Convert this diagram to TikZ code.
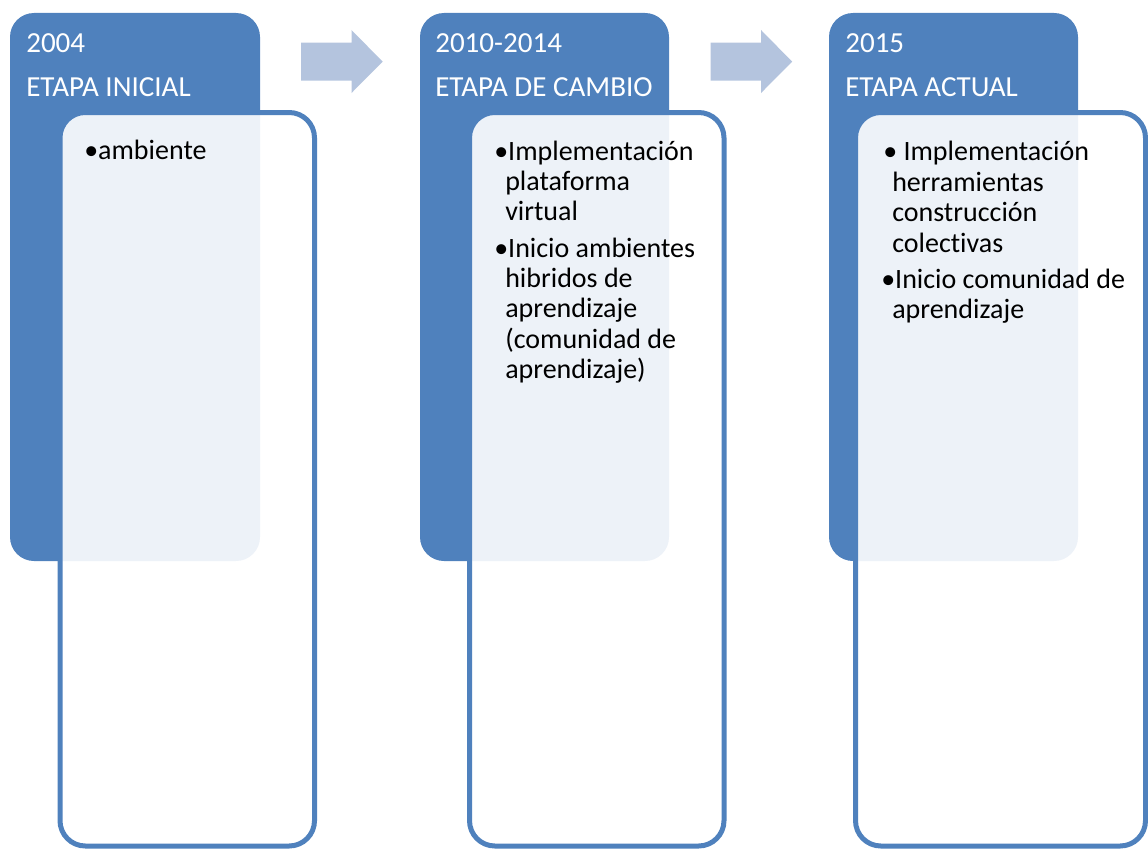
\documentclass[tikz,border=0pt]{standalone}
\usepackage{fontspec}
\setmainfont{Carlito}[RawFeature={-liga;-clig}]
\definecolor{accblue}{HTML}{4F81BD}
\definecolor{arrowblue}{HTML}{B4C4DE}
\begin{document}
\begin{tikzpicture}[x=0.75pt,y=-0.75pt,
  stagebox/.style={fill=accblue, draw=none, rounded corners=18pt},
  detailbox/.style={draw=accblue, line width=3.75pt, fill=white, fill opacity=0.9, rounded corners=19pt},
  headtxt/.style={anchor=base west, inner sep=0pt, text=white, font=\fontsize{21.8}{26}\selectfont},
  bodytxt/.style={anchor=base west, inner sep=0pt, text=black, font=\fontsize{21}{23}\selectfont},
  flow/.style={fill=arrowblue, draw=none}]
\useasboundingbox (0,0) rectangle (1148,849);
% column 1
\fill[stagebox] (10,13) rectangle (260,561);
\path[detailbox] (60,112.5) rectangle (314.5,846);
% column 2
\fill[stagebox] (420,13) rectangle (669,561);
\path[detailbox] (469.5,112.5) rectangle (724,846);
% column 3
\fill[stagebox] (829,13) rectangle (1078,561);
\path[detailbox] (855.5,112.5) rectangle (1145.5,846);
% arrows
\fill[flow] (301,42.7) -- (351.5,42.7) -- (351.5,30) -- (382.7,61.7) -- (351.5,93) -- (351.5,80.7) -- (301,80.7) -- cycle;
\fill[flow] (710.5,42.7) -- (761,42.7) -- (761,30) -- (792.2,61.7) -- (761,93) -- (761,80.7) -- (710.5,80.7) -- cycle;
% headers
\node[headtxt] (h1a) at (26,53) {2004};
\node[headtxt] (h1b) at (26,96) {ETAPA INICIAL};
\node[headtxt] (h2a) at (435,53) {2010-2014};
\node[headtxt] (h2b) at (435,96) {ETAPA DE CAMBIO};
\node[headtxt] (h3a) at (845,53) {2015};
\node[headtxt] (h3b) at (845,96) {ETAPA ACTUAL};
% body column 1
\node[bodytxt] (t1a) at (84,159) {•ambiente};
% body column 2
\node[bodytxt] (t2a) at (494,160) {•Implementación};
\node[bodytxt] (t2b) at (505,190) {plataforma};
\node[bodytxt] (t2c) at (505,220) {virtual};
\node[bodytxt] (t2d) at (494,257) {•Inicio ambientes};
\node[bodytxt] (t2e) at (505,287) {hibridos de};
\node[bodytxt] (t2f) at (505,317) {aprendizaje};
\node[bodytxt] (t2g) at (505,348) {(comunidad de};
\node[bodytxt] (t2h) at (505,378) {aprendizaje)};
% body column 3
\node[bodytxt] (t3a) at (883,160) {• Implementación};
\node[bodytxt] (t3b) at (892,191) {herramientas};
\node[bodytxt] (t3c) at (892,221) {construcción};
\node[bodytxt] (t3d) at (892,252) {colectivas};
\node[bodytxt] (t3e) at (881,288) {•Inicio comunidad de};
\node[bodytxt] (t3f) at (892,318) {aprendizaje};
\end{tikzpicture}
\end{document}
